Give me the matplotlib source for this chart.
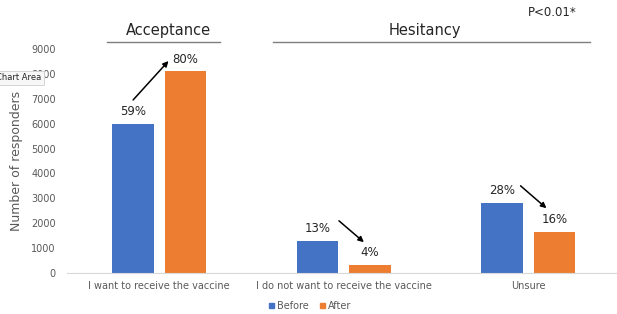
import matplotlib.pyplot as plt
from matplotlib.lines import Line2D
from matplotlib.patches import Patch
import numpy as np

# dados
categorias = ['I want to receive the vaccine', 'I do not want to receive the vaccine', 'Unsure']
antes = [6000, 1300, 2820]
depois = [8100, 330, 1650]
pct_antes = ['59%', '13%', '28%']
pct_depois = ['80%', '4%', '16%']

azul = '#4472C4'
laranja = '#ED7D31'
cinza = '#595959'

fig = plt.figure(figsize=(6.17, 3.14), dpi=100)
fig.patch.set_facecolor('white')
ax = fig.add_axes([67/617, 1-273/314, 1-67/617, (273-49)/314])

x = np.arange(len(categorias))
w = 0.225
off = 0.142
b1 = ax.bar(x - off, antes, w, color=azul, label='Before')
b2 = ax.bar(x + off, depois, w, color=laranja, label='After')

for r, t in zip(b1, pct_antes):
    ax.annotate(t, (r.get_x() + r.get_width()/2, r.get_height()), xytext=(0, 4),
                textcoords='offset points', ha='center', va='bottom', fontsize=8.5, color='#262626')
for r, t in zip(b2, pct_depois):
    ax.annotate(t, (r.get_x() + r.get_width()/2, r.get_height()), xytext=(0, 4),
                textcoords='offset points', ha='center', va='bottom', fontsize=8.5, color='#262626')

# setas entre antes e depois
setas = [((-0.152, 6870), (0.06, 8600)),
         ((0.962, 2170), (1.12, 1165)),
         ((1.946, 3576), (2.109, 2531))]
for ini, fim in setas:
    ax.annotate('', xy=fim, xytext=ini,
                arrowprops=dict(arrowstyle='-|>', color='black', lw=1.1, mutation_scale=8))

ax.set_xlim(-0.5, 2.48)
ax.set_ylim(0, 9000)
ax.set_yticks(range(0, 9001, 1000))
ax.set_xticks(x)
ax.set_xticklabels(categorias, fontsize=7, color=cinza)
ax.tick_params(axis='y', labelsize=7, colors=cinza, length=0, pad=8)
ax.tick_params(axis='x', length=0, pad=6)
for s in ['top', 'right', 'left']:
    ax.spines[s].set_visible(False)
ax.spines['bottom'].set_color('#d9d9d9')
ax.set_ylabel('Number of responders', fontsize=9, color=cinza, labelpad=6)

# cabeçalhos
fig.text(168/617, 1-30/314, 'Acceptance', ha='center', va='center', fontsize=10.5, color='#262626')
fig.add_artist(Line2D([107/617, 220/617], [1-42/314, 1-42/314], color='#7f7f7f', lw=1))
fig.text(425/617, 1-30/314, 'Hesitancy', ha='center', va='center', fontsize=10.5, color='#262626')
fig.add_artist(Line2D([273/617, 590/617], [1-42/314, 1-42/314], color='#7f7f7f', lw=1))
fig.text(552/617, 1-13/314, 'P<0.01*', ha='center', va='center', fontsize=8.5, color='#262626')

# rótulo "Chart Area" da captura
fig.text(-4/617, 1-78/314, 'Chart Area', ha='left', va='center', fontsize=6, color='#262626',
         bbox=dict(boxstyle='square,pad=0.3', fc='#f7f7f7', ec='#d0d0d0', lw=0.6))

leg = [Patch(color=azul, label='Before'), Patch(color=laranja, label='After')]
fig.legend(handles=leg, loc='center', bbox_to_anchor=(310/617, 1-306/314), ncol=2,
           frameon=False, fontsize=7, handlelength=0.5, handleheight=0.5,
           handletextpad=0.3, columnspacing=1.2, labelcolor=cinza)

fig.savefig('out.png', dpi=100)
